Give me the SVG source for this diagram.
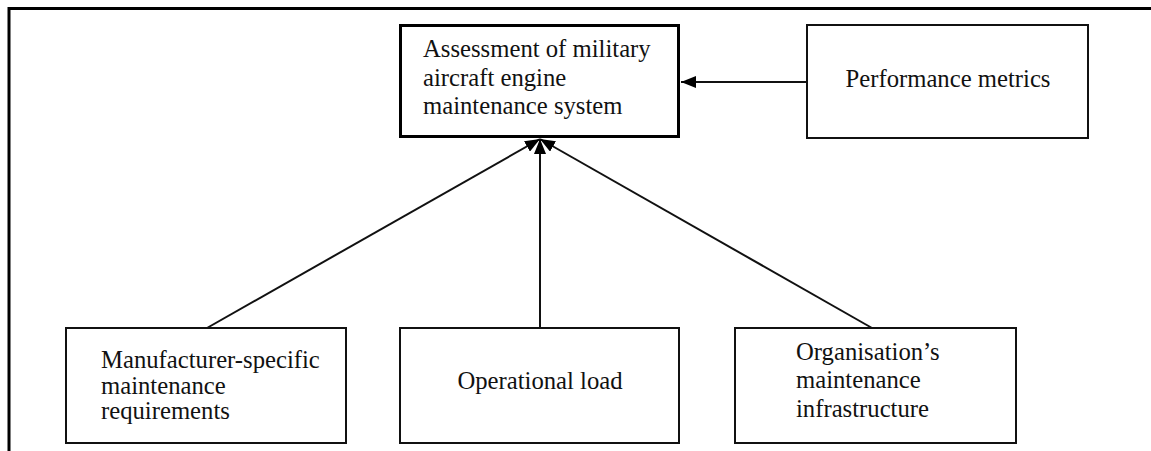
<svg xmlns="http://www.w3.org/2000/svg" width="1151" height="451" viewBox="0 0 1151 451">
  <style>
    .box { fill: #ffffff; stroke: #111111; stroke-width: 2; }
    .main { fill: #ffffff; stroke: #000000; stroke-width: 3; }
    .lbl { font-family: "Liberation Serif", "Times New Roman", serif; font-size: 24.7px; fill: #111111; }
    .mid { text-anchor: middle; }
    .edge { stroke: #111111; stroke-width: 2; fill: none; marker-end: url(#arrow); }
    .frame { stroke: #000000; stroke-width: 3; fill: none; }
  </style>
  <defs>
    <marker id="arrow" markerUnits="userSpaceOnUse" markerWidth="16" markerHeight="12" refX="15" refY="6" orient="auto">
      <path d="M0,0 L15,6 L0,12 z" fill="#000000"/>
    </marker>
  </defs>

  <rect width="1151" height="451" fill="#ffffff"/>

  <!-- page frame: top rule and left rule -->
  <path class="frame" d="M9,451 L9,8.5 L1151,8.5"/>

  <!-- connectors -->
  <g id="connectors">
    <line class="edge" x1="807" y1="82" x2="681" y2="82"/>
    <line class="edge" x1="207" y1="328" x2="540" y2="139"/>
    <line class="edge" x1="540" y1="328" x2="540" y2="139"/>
    <line class="edge" x1="872" y1="328" x2="540" y2="139"/>
  </g>

  <g id="assessment">
    <rect class="main" x="400.5" y="25.5" width="278" height="111"/>
    <text class="lbl" x="423" y="57">Assessment of military</text>
    <text class="lbl" x="423" y="86">aircraft engine</text>
    <text class="lbl" x="423" y="114">maintenance system</text>
  </g>

  <g id="performance">
    <rect class="box" x="807" y="25" width="281" height="113"/>
    <text class="lbl mid" x="948" y="87">Performance metrics</text>
  </g>

  <g id="manufacturer">
    <rect class="box" x="66" y="328" width="280" height="115"/>
    <text class="lbl" x="101" y="368">Manufacturer-specific</text>
    <text class="lbl" x="101" y="394">maintenance</text>
    <text class="lbl" x="101" y="419">requirements</text>
  </g>

  <g id="operational">
    <rect class="box" x="400" y="328" width="279" height="115"/>
    <text class="lbl mid" x="540" y="389">Operational load</text>
  </g>

  <g id="organisation">
    <rect class="box" x="735" y="328" width="281" height="115"/>
    <text class="lbl" x="796" y="360">Organisation’s</text>
    <text class="lbl" x="796" y="388">maintenance</text>
    <text class="lbl" x="796" y="417">infrastructure</text>
  </g>
</svg>
